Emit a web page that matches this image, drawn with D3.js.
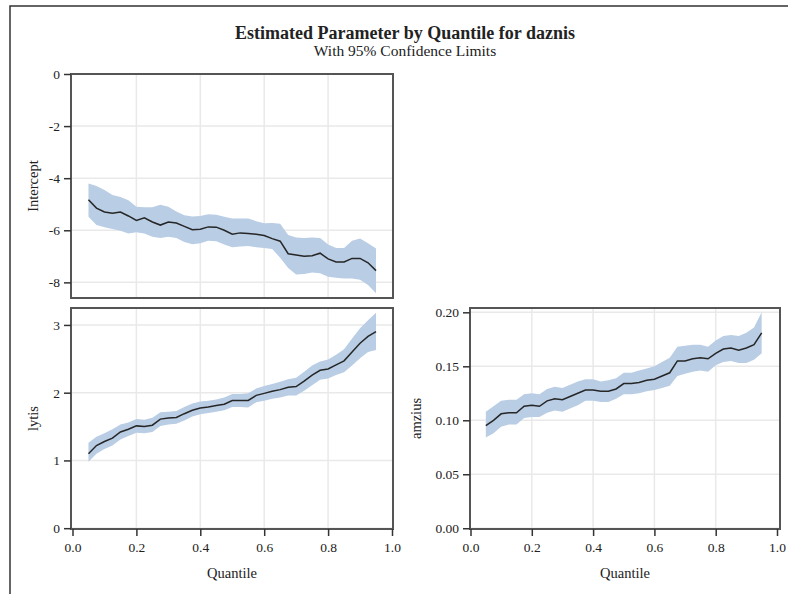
<!DOCTYPE html>
<html>
<head>
<meta charset="utf-8">
<script src="https://cdn.jsdelivr.net/npm/d3@7"></script>
<style>
body { margin:0; background:#fff; }
svg text { font-family:"Liberation Serif", "DejaVu Serif", serif !important; fill:#222; }
.grid line { stroke:#e9e9e9; stroke-width:1.5; }
.band { fill:#b9cde5; stroke:none; }
.est { fill:none; stroke:#262626; stroke-width:1.5; }
.frame { fill:none; stroke:#555; stroke-width:2; }
.axis path { display:none; }
.axis line { stroke:#333; stroke-width:1.5; }
</style>
</head>
<body>
<svg id="chart" width="788" height="594"></svg>
<script>
// quantile grid the estimates were read on
var quantiles = [0.05,0.075,0.10,0.125,0.15,0.175,0.20,0.225,0.25,0.275,0.30,0.325,0.35,0.375,0.40,0.425,0.45,0.475,
                 0.50,0.525,0.55,0.575,0.60,0.625,0.65,0.675,0.70,0.725,0.75,0.775,0.80,0.825,0.85,0.875,0.90,0.925,0.95];

var interceptEst = [-4.83,-5.15,-5.30,-5.35,-5.30,-5.45,-5.62,-5.52,-5.68,-5.80,-5.68,-5.72,-5.85,-5.98,-5.96,-5.87,-5.88,-6.00,
                    -6.15,-6.10,-6.12,-6.15,-6.20,-6.32,-6.42,-6.90,-6.95,-7.00,-6.98,-6.88,-7.10,-7.22,-7.22,-7.08,-7.08,-7.25,-7.55];
var interceptUpper = [-4.20,-4.30,-4.45,-4.65,-4.72,-4.85,-5.10,-5.12,-5.12,-5.02,-5.10,-5.28,-5.42,-5.47,-5.45,-5.38,-5.40,-5.48,
                      -5.55,-5.55,-5.55,-5.65,-5.73,-5.72,-5.75,-6.18,-6.28,-6.30,-6.28,-6.30,-6.55,-6.68,-6.68,-6.40,-6.32,-6.50,-6.70];
var interceptLower = [-5.48,-5.80,-5.88,-5.95,-6.02,-6.12,-6.08,-6.12,-6.25,-6.30,-6.25,-6.30,-6.45,-6.54,-6.50,-6.40,-6.42,-6.55,
                      -6.65,-6.62,-6.60,-6.65,-6.68,-6.72,-7.05,-7.45,-7.70,-7.68,-7.62,-7.65,-7.78,-7.82,-7.85,-7.85,-7.90,-8.10,-8.42];

var lytisEst = [1.10,1.22,1.28,1.33,1.42,1.46,1.51,1.50,1.52,1.61,1.625,1.635,1.69,1.74,1.775,1.79,1.81,1.83,
                1.885,1.885,1.885,1.96,1.99,2.02,2.045,2.08,2.09,2.17,2.26,2.33,2.35,2.41,2.47,2.60,2.73,2.83,2.90];
var lytisUpper = [1.26,1.35,1.40,1.46,1.53,1.56,1.61,1.60,1.63,1.71,1.72,1.73,1.79,1.84,1.87,1.88,1.90,1.93,
                  1.98,1.98,1.99,2.06,2.10,2.13,2.16,2.20,2.22,2.31,2.40,2.46,2.49,2.56,2.64,2.80,2.95,3.07,3.18];
var lytisLower = [0.98,1.10,1.17,1.22,1.31,1.36,1.41,1.40,1.42,1.51,1.53,1.54,1.59,1.65,1.68,1.70,1.72,1.74,
                  1.79,1.79,1.78,1.86,1.88,1.91,1.93,1.96,1.96,2.03,2.11,2.19,2.21,2.26,2.30,2.40,2.51,2.60,2.63];

var amziusEst = [0.095,0.100,0.106,0.107,0.107,0.113,0.114,0.113,0.118,0.120,0.119,0.122,0.125,0.128,0.128,0.127,0.127,0.129,
                 0.134,0.134,0.135,0.137,0.138,0.141,0.144,0.155,0.155,0.157,0.158,0.157,0.162,0.166,0.167,0.165,0.167,0.170,0.181];
var amziusUpper = [0.108,0.113,0.118,0.119,0.119,0.124,0.125,0.124,0.129,0.131,0.130,0.133,0.136,0.138,0.138,0.136,0.137,0.139,
                   0.144,0.144,0.146,0.148,0.150,0.154,0.158,0.168,0.169,0.170,0.170,0.168,0.174,0.178,0.179,0.178,0.181,0.186,0.200];
var amziusLower = [0.084,0.088,0.094,0.096,0.096,0.102,0.103,0.103,0.107,0.109,0.108,0.111,0.114,0.118,0.118,0.117,0.117,0.120,
                   0.124,0.124,0.125,0.127,0.128,0.130,0.132,0.141,0.143,0.145,0.146,0.145,0.151,0.154,0.155,0.153,0.153,0.156,0.162];

// tick values
var quantileTicks = [0,0.2,0.4,0.6,0.8,1.0];
var interceptTicks = [0,-2,-4,-6,-8];
var lytisTicks = [0,1,2,3];
var amziusTicks = [0,0.05,0.10,0.15,0.20];

var titleText = "Estimated Parameter by Quantile for daznis";
var subtitleText = "With 95% Confidence Limits";

var serif = "'Liberation Serif', 'DejaVu Serif', serif";
var svg = d3.select("#chart");

// outer border (left and top only visible)
svg.append("path")
    .attr("d","M10,594 L10,6 L788,6")
    .attr("fill","none")
    .attr("stroke","#333")
    .attr("stroke-width",1.5);

svg.append("text")
    .text(titleText)
    .attr("x",405).attr("y",39)
    .attr("text-anchor","middle")
    .style("font-size","18px")
    .style("font-weight","bold");

svg.append("text")
    .text(subtitleText)
    .attr("x",405).attr("y",56)
    .attr("text-anchor","middle")
    .style("font-size","15.5px");

var makeRows = function(lo,est,hi){
    return quantiles.map(function(q,i){ return {q:q, lo:lo[i], est:est[i], hi:hi[i]}; });
}

var drawPanel = function(p)
{
    var xScale = d3.scaleLinear().domain([0,1]).range([p.x0,p.x1]);
    var yScale = d3.scaleLinear().domain(p.ydom).range([p.bottom,p.top]);
    var g = svg.append("g");

    // grid
    var grid = g.append("g").classed("grid",true);
    grid.selectAll(".gx").data(quantileTicks.filter(function(d){return d>0 && d<1;}))
        .enter().append("line")
        .attr("x1",function(d){return xScale(d);}).attr("x2",function(d){return xScale(d);})
        .attr("y1",p.top).attr("y2",p.bottom);
    grid.selectAll(".gy").data(p.yticks)
        .enter().append("line")
        .attr("x1",p.left).attr("x2",p.right)
        .attr("y1",function(d){return yScale(d);}).attr("y2",function(d){return yScale(d);});

    var rows = makeRows(p.lo,p.est,p.hi);

    var area = d3.area()
        .x(function(d){return xScale(d.q);})
        .y0(function(d){return yScale(d.lo);})
        .y1(function(d){return yScale(d.hi);});
    g.append("path").datum(rows).classed("band",true).attr("d",area);

    var line = d3.line()
        .x(function(d){return xScale(d.q);})
        .y(function(d){return yScale(d.est);});
    g.append("path").datum(rows).classed("est",true).attr("d",line);

    g.append("rect").classed("frame",true)
        .attr("x",p.left).attr("y",p.top)
        .attr("width",p.right-p.left).attr("height",p.bottom-p.top);

    var yAxis = d3.axisLeft(yScale).tickValues(p.yticks).tickSize(7).tickPadding(4)
        .tickFormat(p.yfmt);
    g.append("g").classed("axis",true)
        .attr("transform","translate("+p.left+",0)")
        .call(yAxis)
        .attr("font-family",serif).attr("font-size",13.5);

    if (p.showX) {
        var xAxis = d3.axisBottom(xScale).tickValues(quantileTicks).tickSize(7).tickPadding(6)
            .tickFormat(function(d){ return d.toFixed(1); });
        g.append("g").classed("axis",true)
            .attr("transform","translate(0,"+p.bottom+")")
            .call(xAxis)
            .attr("font-family",serif).attr("font-size",13.5);
        g.append("text").text("Quantile")
            .attr("x",(p.left+p.right)/2).attr("y",p.bottom+49)
            .attr("text-anchor","middle")
            .style("font-size","14.5px");
    }

    g.append("text").text(p.label)
        .attr("transform","translate("+p.labelX+","+((p.top+p.bottom)/2)+") rotate(-90)")
        .attr("text-anchor","middle")
        .style("font-size","14.5px");
}

drawPanel({left:71,right:393,top:74,bottom:298,x0:72.5,x1:392,
    ydom:[-8.6,0],yticks:interceptTicks,yfmt:function(d){return String(d);},
    lo:interceptLower,est:interceptEst,hi:interceptUpper,
    label:"Intercept",labelX:38,showX:false});

drawPanel({left:71,right:393,top:308,bottom:529,x0:72.5,x1:392,
    ydom:[-0.012,3.25],yticks:lytisTicks,yfmt:function(d){return String(d);},
    lo:lytisLower,est:lytisEst,hi:lytisUpper,
    label:"lytis",labelX:38,showX:true});

drawPanel({left:470,right:780,top:308,bottom:529,x0:470.5,x1:777,
    ydom:[-0.0007,0.204],yticks:amziusTicks,yfmt:function(d){return d.toFixed(2);},
    lo:amziusLower,est:amziusEst,hi:amziusUpper,
    label:"amzius",labelX:421,showX:true});
</script>
</body>
</html>
